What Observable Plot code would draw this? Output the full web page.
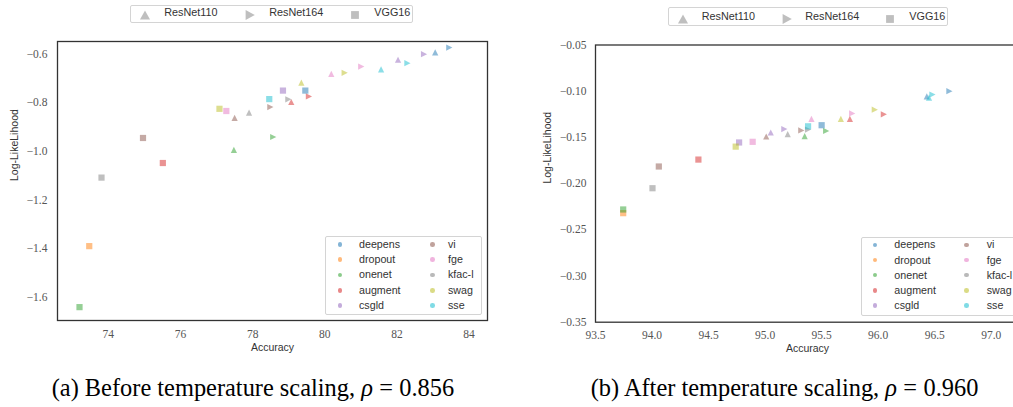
<!DOCTYPE html>
<html><head><meta charset="utf-8">
<script src="https://cdn.jsdelivr.net/npm/d3@7"></script>
<script src="https://cdn.jsdelivr.net/npm/@observablehq/plot@0.6"></script>
<style>
html,body{margin:0;padding:0;background:#fff;}
#root{position:relative;width:1013px;height:407px;overflow:hidden;background:#fff;}
.plot{position:absolute;top:0;}
.legbox{position:absolute;border:1px solid #d4d4d4;border-radius:2px;background:rgba(255,255,255,0.85);box-sizing:border-box;}
.lt{position:absolute;font-family:"Liberation Sans",Arial,sans-serif;color:#333;white-space:nowrap;line-height:1;}
.cap{position:absolute;font-family:"Liberation Serif","Times New Roman",serif;font-size:24.4px;line-height:24px;white-space:nowrap;color:#000;}
.eq{margin:0 0.26em;}
.mk{position:absolute;}
</style></head><body><div id="root"></div>
<script>
const methods = ["deepens","dropout","onenet","augment","csgld","vi","fge","kfac-l","swag","sse"];
const archs = ["ResNet110","ResNet164","VGG16"];
const palette = ["#1f77b4","#ff7f0e","#2ca02c","#d62728","#9467bd","#8c564b","#e377c2","#7f7f7f","#bcbd22","#17becf"];

// (a) Before temperature scaling — values per method (order of `methods`)
const beforeAccR110 = [83.06, null, 77.48, 79.07, 82.03, 77.50, 80.18, 77.90, 79.35, 81.56];
const beforeNllR110 = [-0.593, null, -0.994, -0.797, -0.623, -0.862, -0.681, -0.841, -0.717, -0.663];
const beforeAccR164 = [83.45, null, 78.57, 79.56, 82.75, 78.49, 81.01, 78.99, 80.55, 82.29];
const beforeNllR164 = [-0.573, null, -0.941, -0.774, -0.600, -0.818, -0.651, -0.786, -0.677, -0.637];
const beforeAccVGG = [79.46, 73.47, 73.20, 75.51, 78.84, 74.96, 77.27, 73.81, 77.08, 78.46];
const beforeNllVGG = [-0.750, -1.390, -1.641, -1.048, -0.750, -0.945, -0.834, -1.108, -0.825, -0.785];

// (b) After temperature scaling
const afterAccR110 = [96.43, null, 95.35, 95.75, 95.05, 95.01, 95.41, 95.20, 95.67, 96.45];
const afterNllR110 = [-0.1055, null, -0.1487, -0.130, -0.1447, -0.149, -0.130, -0.1465, -0.130, -0.107];
const afterAccR164 = [96.63, null, 95.54, 96.05, 95.17, 95.32, 95.77, 95.38, 95.97, 96.48];
const afterNllR164 = [-0.100, null, -0.143, -0.125, -0.141, -0.1425, -0.124, -0.1415, -0.120, -0.1036];
const afterAccVGG = [95.50, 93.745, 93.745, 94.41, 94.77, 94.06, 94.89, 94.004, 94.74, 95.38];
const afterNllVGG = [-0.1368, -0.232, -0.228, -0.174, -0.1555, -0.1815, -0.1548, -0.205, -0.160, -0.138];

const xTicksBefore = [74, 76, 78, 80, 82, 84];
const yTicksBefore = [-1.6, -1.4, -1.2, -1.0, -0.8, -0.6];
const xTicksAfter = [93.5, 94.0, 94.5, 95.0, 95.5, 96.0, 96.5, 97.0];
const yTicksAfter = [-0.35, -0.30, -0.25, -0.20, -0.15, -0.10, -0.05];

const captionA = "(a) Before temperature scaling, ";
const captionB = "(b) After temperature scaling, ";
const rhoA = "0.856", rhoB = "0.960";

function rows(accs, nlls) {
  const out = [];
  archs.forEach((a, ai) => methods.forEach((m, mi) => {
    const x = accs[ai][mi], y = nlls[ai][mi];
    if (x != null) out.push({method: m, arch: a, acc: x, nll: y});
  }));
  return out;
}
const dataBefore = rows([beforeAccR110, beforeAccR164, beforeAccVGG], [beforeNllR110, beforeNllR164, beforeNllVGG]);
const dataAfter = rows([afterAccR110, afterAccR164, afterAccVGG], [afterNllR110, afterNllR164, afterNllVGG]);

const triUp = {draw(ctx, size){const e = Math.sqrt(size/Math.PI); ctx.moveTo(0,-e); ctx.lineTo(e,e); ctx.lineTo(-e,e); ctx.closePath();}};
const triRight = {draw(ctx, size){const e = Math.sqrt(size/Math.PI); ctx.moveTo(e,0); ctx.lineTo(-e,e); ctx.lineTo(-e,-e); ctx.closePath();}};
const square = {draw(ctx, size){const e = Math.sqrt(size/Math.PI); ctx.rect(-e,-e,2*e,2*e);}};

const minus = (d, k) => (d < 0 ? "\u2212" : "") + Math.abs(d).toFixed(k);
const H = 365;

function makePlot(c) {
  return Plot.plot({
    width: c.width, height: H,
    marginLeft: c.ml, marginRight: c.mr, marginTop: c.mt, marginBottom: H - c.fb,
    style: {background: "transparent", fontFamily: "'Liberation Serif', serif", fontSize: "11.5px", color: "#555"},
    x: {domain: c.xd},
    y: {domain: c.yd},
    color: {domain: methods, range: palette},
    symbol: {domain: archs, range: [triUp, triRight, square]},
    marks: [
      Plot.axisX({ticks: c.xt, tickSize: 0, tickPadding: c.xp, tickFormat: c.xf, label: null}),
      Plot.axisY({ticks: c.yt, tickSize: 0, tickPadding: c.yp, tickFormat: c.yf, label: null}),
      Plot.dot(c.data, {x: "acc", y: "nll", fill: "method", symbol: "arch", r: 3.1, fillOpacity: 0.5}),
      Plot.frame({stroke: "#333", strokeWidth: 1.3}),
      Plot.text(["Accuracy"], {frameAnchor: "bottom", dy: c.xlab, fontFamily: "'Liberation Sans', Arial, sans-serif", fontSize: 10.5, fill: "#333"}),
      Plot.text(["Log-LikeLihood"], {frameAnchor: "left", dx: -c.ylab, rotate: -90, fontFamily: "'Liberation Sans', Arial, sans-serif", fontSize: 10.5, fill: "#333"})
    ]
  });
}

const root = document.getElementById("root");

const pA = makePlot({width: 500, ml: 57, mr: 13, mt: 41, fb: 320,
  xd: [72.59, 84.51], yd: [-1.696, -0.548], xt: xTicksBefore, yt: yTicksBefore,
  xf: d => String(d), yf: d => minus(d, 1), xp: 9, yp: 10, xlab: 30, ylab: 43, data: dataBefore});
pA.classList.add("plot"); pA.style.left = "0px";
root.appendChild(pA);

const pB = makePlot({width: 525, ml: 95, mr: 6, mt: 44.5, fb: 321.7,
  xd: [93.5, 97.25], yd: [-0.35, -0.05], xt: xTicksAfter, yt: yTicksAfter,
  xf: d => d.toFixed(1), yf: d => minus(d, 2), xp: 9, yp: 9, xlab: 29.3, ylab: 48, data: dataAfter});
pB.classList.add("plot"); pB.style.left = "500px";
root.appendChild(pB);

function el(tag, cls, css, html) {
  const e = document.createElement(tag);
  if (cls) e.className = cls;
  Object.assign(e.style, css);
  if (html != null) e.innerHTML = html;
  root.appendChild(e);
  return e;
}

// method legends (lower right inside axes)
function methodLegend(L) {
  el("div", "legbox", {left: L.x + "px", top: L.y + "px", width: L.w + "px", height: L.h + "px"});
  methods.forEach((m, i) => {
    const col = i < 5 ? 0 : 1, row = i % 5;
    const cy = L.r0 + row * L.step;
    const dx = col ? L.d2 : L.d1, tx = col ? L.t2 : L.t1;
    el("div", "", {position: "absolute", left: (dx - 2.3) + "px", top: (cy - 2.3) + "px", width: "4.6px", height: "4.6px",
      borderRadius: "50%", background: palette[i], opacity: 0.55});
    el("div", "lt", {left: tx + "px", top: (cy - 5.6) + "px", fontSize: "10.7px"}, m);
  });
}
methodLegend({x: 325, y: 235.7, w: 157, h: 79.3, r0: 244.3, step: 15.35, d1: 340, t1: 359, d2: 432.7, t2: 448});
methodLegend({x: 860.7, y: 237.3, w: 156, h: 78.4, r0: 245, step: 15.1, d1: 875, t1: 894.3, d2: 966.7, t2: 986.7});

// architecture legends (top)
const markerSvg = [
  '<svg width="12" height="12" viewBox="-6 -6 12 12"><path d="M0,-4.6L5,4.4L-5,4.4Z" fill="#bfbfbf"/></svg>',
  '<svg width="12" height="12" viewBox="-6 -6 12 12"><path d="M4.8,0L-4.4,5L-4.4,-5Z" fill="#bfbfbf"/></svg>',
  '<svg width="12" height="12" viewBox="-6 -6 12 12"><rect x="-3.9" y="-3.9" width="7.8" height="7.8" fill="#bfbfbf"/></svg>'
];
function archLegend(L) {
  el("div", "legbox", {left: L.x + "px", top: L.y + "px", width: L.w + "px", height: L.h + "px"});
  archs.forEach((a, i) => {
    el("div", "mk", {left: (L.m[i] - 6) + "px", top: (L.cy - 6) + "px", width: "12px", height: "12px"}, markerSvg[i]);
    el("div", "lt", {left: L.t[i] + "px", top: (L.cy - 5.6) + "px", fontSize: "10.8px"}, a);
  });
}
archLegend({x: 130, y: 4.7, w: 283, h: 18, cy: 13, m: [145, 250, 355], t: [164.3, 269.3, 374.3]});
archLegend({x: 667.7, y: 7.3, w: 280.3, h: 18.7, cy: 16.5, m: [682.7, 786.7, 890], t: [701.7, 805.3, 909.3]});

// captions
el("div", "cap", {left: "51.7px", top: "376px"}, captionA + "<i>\u03C1</i><span class='eq'>=</span>" + rhoA);
el("div", "cap", {left: "590.7px", top: "376px"}, captionB + "<i>\u03C1</i><span class='eq'>=</span>" + rhoB);
</script></body></html>
